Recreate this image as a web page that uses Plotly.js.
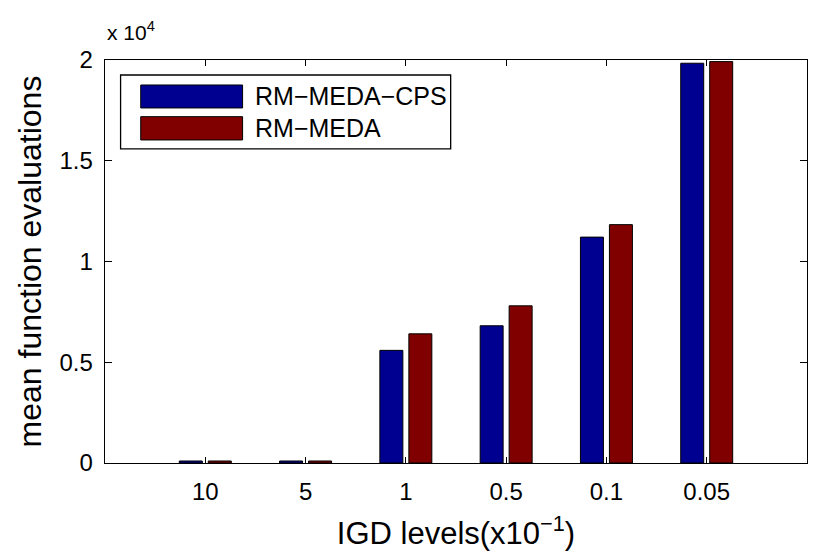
<!DOCTYPE html>
<html>
<head>
<meta charset="utf-8">
<script src="https://cdn.plot.ly/plotly-3.0.1.min.js"></script>
<style>
  html, body { margin: 0; padding: 0; background: #fff; }
  #graph { width: 830px; height: 553px; }
</style>
</head>
<body>
<div id="graph"></div>
<script>
// IGD levels (x10^-1) on the x axis
const levels = ['10', '5', '1', '0.5', '0.1', '0.05'];

// mean function evaluations
const cpsEvals = [100, 100, 5590, 6810, 11210, 19840];
const medaEvals = [100, 100, 6410, 7800, 11830, 19920];

const seriesNames = ['RM\u2212MEDA\u2212CPS', 'RM\u2212MEDA'];
const seriesColors = ['#000090', '#800000'];

const yTickVals = [0, 5000, 10000, 15000, 20000];
const yTickText = ['0', '0.5', '1', '1.5', '2'];

const FONT = 'Liberation Sans, Arial, Helvetica, sans-serif';

const idx = levels.map((_, i) => i);

const traces = [cpsEvals, medaEvals].map((vals, k) => ({
  type: 'bar',
  x: idx,
  y: vals,
  name: seriesNames[k],
  marker: {
    color: seriesColors[k],
    line: { color: '#000', width: 1 }
  },
  hoverinfo: 'none'
}));

// hand-made legend box (MATLAB style, wide swatches)
const legendShapes = [
  { type: 'rect', xref: 'paper', yref: 'paper', x0: 0.0222, x1: 0.4924, y0: 0.7793, y1: 0.9628,
    line: { color: '#000', width: 1.3 }, fillcolor: '#fff' },
  { type: 'rect', xref: 'paper', yref: 'paper', x0: 0.0509, x1: 0.196, y0: 0.8810, y1: 0.9380,
    line: { color: '#000', width: 1 }, fillcolor: seriesColors[0] },
  { type: 'rect', xref: 'paper', yref: 'paper', x0: 0.0509, x1: 0.196, y0: 0.8016, y1: 0.8594,
    line: { color: '#000', width: 1 }, fillcolor: seriesColors[1] }
];

const legendText = [0.9095, 0.8306].map((yy, k) => ({
  xref: 'paper', yref: 'paper', x: 0.2108, y: yy,
  xanchor: 'left', yanchor: 'middle', showarrow: false,
  text: seriesNames[k],
  font: { family: FONT, size: 25, color: '#000' }
}));

const layout = {
  width: 830,
  height: 553,
  margin: { l: 105, r: 23, t: 60, b: 90, pad: 0 },
  paper_bgcolor: '#fff',
  plot_bgcolor: '#fff',
  showlegend: false,
  barmode: 'group',
  bargap: 0.422,
  bargroupgap: 0.207,
  font: { family: FONT, size: 24, color: '#000' },
  xaxis: {
    range: [-1, 6],
    tickmode: 'array',
    tickvals: idx,
    ticktext: levels,
    ticks: 'inside',
    ticklen: 6,
    tickwidth: 1,
    tickcolor: '#000',
    showline: true,
    linecolor: '#000',
    linewidth: 1.3,
    mirror: 'ticks',
    showgrid: false,
    zeroline: false,
    ticklabelstandoff: 7,
    tickfont: { family: FONT, size: 24 },
    title: { text: 'IGD levels(x10<sup>\u22121</sup>)', font: { family: FONT, size: 31 }, standoff: 18 },
    fixedrange: true
  },
  yaxis: {
    range: [0, 20000],
    tickmode: 'array',
    tickvals: yTickVals,
    ticktext: yTickText,
    ticks: 'inside',
    ticklen: 7,
    tickwidth: 1,
    tickcolor: '#000',
    showline: true,
    linecolor: '#000',
    linewidth: 1.3,
    mirror: 'ticks',
    showgrid: false,
    zeroline: false,
    ticklabelstandoff: 6,
    tickfont: { family: FONT, size: 24 },
    title: { text: 'mean function evaluations', font: { family: FONT, size: 32 }, standoff: 8 },
    fixedrange: true
  },
  shapes: legendShapes,
  annotations: [
    {
      xref: 'paper', yref: 'paper', x: 0, y: 1.035,
      xanchor: 'left', yanchor: 'bottom', showarrow: false,
      text: 'x 10<sup>4</sup>',
      font: { family: FONT, size: 21, color: '#000' }
    }
  ].concat(legendText)
};

Plotly.newPlot('graph', traces, layout, { displayModeBar: false, staticPlot: true });
</script>
</body>
</html>
